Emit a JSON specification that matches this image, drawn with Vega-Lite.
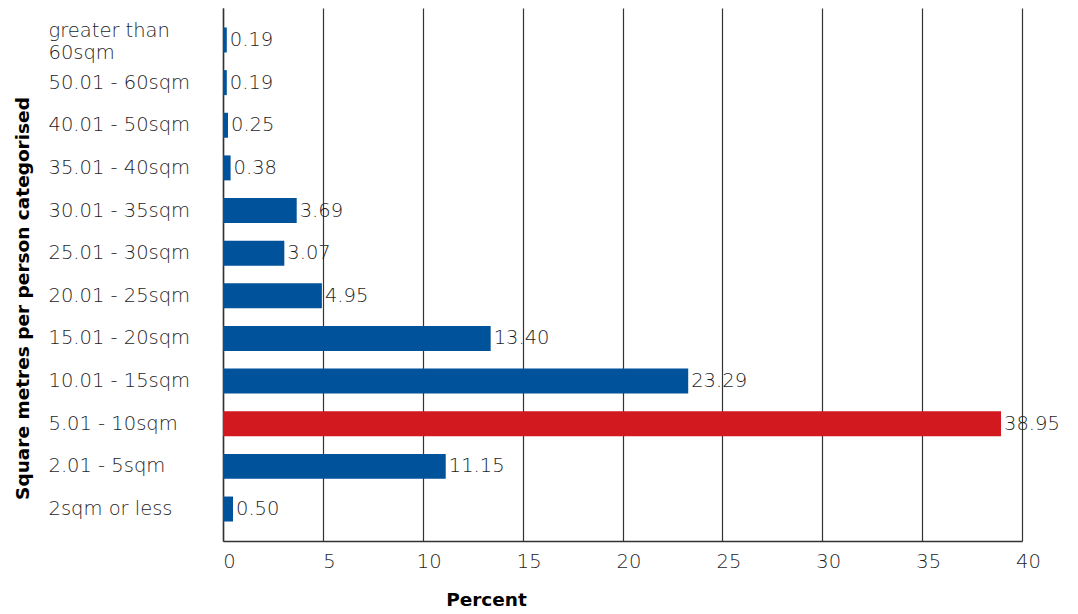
{
  "$schema": "https://vega.github.io/schema/vega-lite/v6.json",
  "width": 799,
  "height": 533,
  "autosize": {"type": "none"},
  "padding": {"left": 223, "top": 8, "right": 56, "bottom": 73},
  "background": "white",
  "config": {"view": {"stroke": null}, "font": "DejaVu Sans"},
  "data": {
    "values": [
      {"category": "greater than 60sqm", "percent": 0.19, "highlight": "no"},
      {"category": "50.01 - 60sqm", "percent": 0.19, "highlight": "no"},
      {"category": "40.01 - 50sqm", "percent": 0.25, "highlight": "no"},
      {"category": "35.01 - 40sqm", "percent": 0.38, "highlight": "no"},
      {"category": "30.01 - 35sqm", "percent": 3.69, "highlight": "no"},
      {"category": "25.01 - 30sqm", "percent": 3.07, "highlight": "no"},
      {"category": "20.01 - 25sqm", "percent": 4.95, "highlight": "no"},
      {"category": "15.01 - 20sqm", "percent": 13.40, "highlight": "no"},
      {"category": "10.01 - 15sqm", "percent": 23.29, "highlight": "no"},
      {"category": "5.01 - 10sqm", "percent": 38.95, "highlight": "yes"},
      {"category": "2.01 - 5sqm", "percent": 11.15, "highlight": "no"},
      {"category": "2sqm or less", "percent": 0.50, "highlight": "no"}
    ]
  },
  "encoding": {
    "y": {
      "field": "category",
      "type": "nominal",
      "sort": null,
      "scale": {"paddingInner": 0.414, "paddingOuter": 0.457},
      "axis": {
        "title": "Square metres per person categorised",
        "titleFont": "DejaVu Sans",
        "titleFontSize": 18.5,
        "titleFontWeight": "bold",
        "titleColor": "#000000",
        "titleX": -201,
        "titleY": 290,
        "titleAngle": -90,
        "titleAlign": "center",
        "titleBaseline": "middle",
        "labelAlign": "left",
        "labelPadding": 175,
        "labelFontSize": 19.5,
        "labelFontWeight": 200,
        "labelColor": "#1e1e1e",
        "labelFont": "DejaVu Sans",
        "labelLimit": 200,
        "labelLineHeight": 22,
        "labelOffset": {"condition": {"test": "datum.value == 'greater than 60sqm'", "value": -9}, "value": 0},
        "labelExpr": "datum.value == 'greater than 60sqm' ? ['greater than', '60sqm'] : datum.value",
        "ticks": false,
        "domain": true,
        "domainColor": "#333333",
        "domainWidth": 1.5,
        "grid": false
      }
    },
    "x": {
      "field": "percent",
      "type": "quantitative",
      "scale": {"domain": [0, 40], "nice": false},
      "axis": {
        "title": "Percent",
        "titleFont": "DejaVu Sans",
        "titleFontSize": 18.5,
        "titleFontWeight": "bold",
        "titleColor": "#000000",
        "titleX": 263,
        "titleY": 49,
        "titleAlign": "center",
        "values": [0, 5, 10, 15, 20, 25, 30, 35, 40],
        "labelFlush": false,
        "labelFontSize": 19.5,
        "labelFontWeight": 200,
        "labelFont": "DejaVu Sans",
        "labelColor": "#1e1e1e",
        "labelOffset": 6,
        "labelPadding": 11,
        "ticks": false,
        "grid": true,
        "gridColor": "#333333",
        "gridWidth": 1.2,
        "gridOpacity": 1,
        "domain": true,
        "domainColor": "#333333",
        "domainWidth": 1.5
      }
    }
  },
  "layer": [
    {
      "mark": {"type": "bar"},
      "encoding": {
        "color": {
          "field": "highlight",
          "type": "nominal",
          "scale": {"domain": ["no", "yes"], "range": ["#00529B", "#D2191F"]},
          "legend": null
        }
      }
    },
    {
      "mark": {"type": "text", "align": "left", "baseline": "middle", "dx": 3, "fontSize": 19.5, "fontWeight": 200, "color": "#1e1e1e", "font": "DejaVu Sans"},
      "encoding": {
        "text": {"field": "percent", "type": "quantitative", "format": ".2f"}
      }
    }
  ]
}
